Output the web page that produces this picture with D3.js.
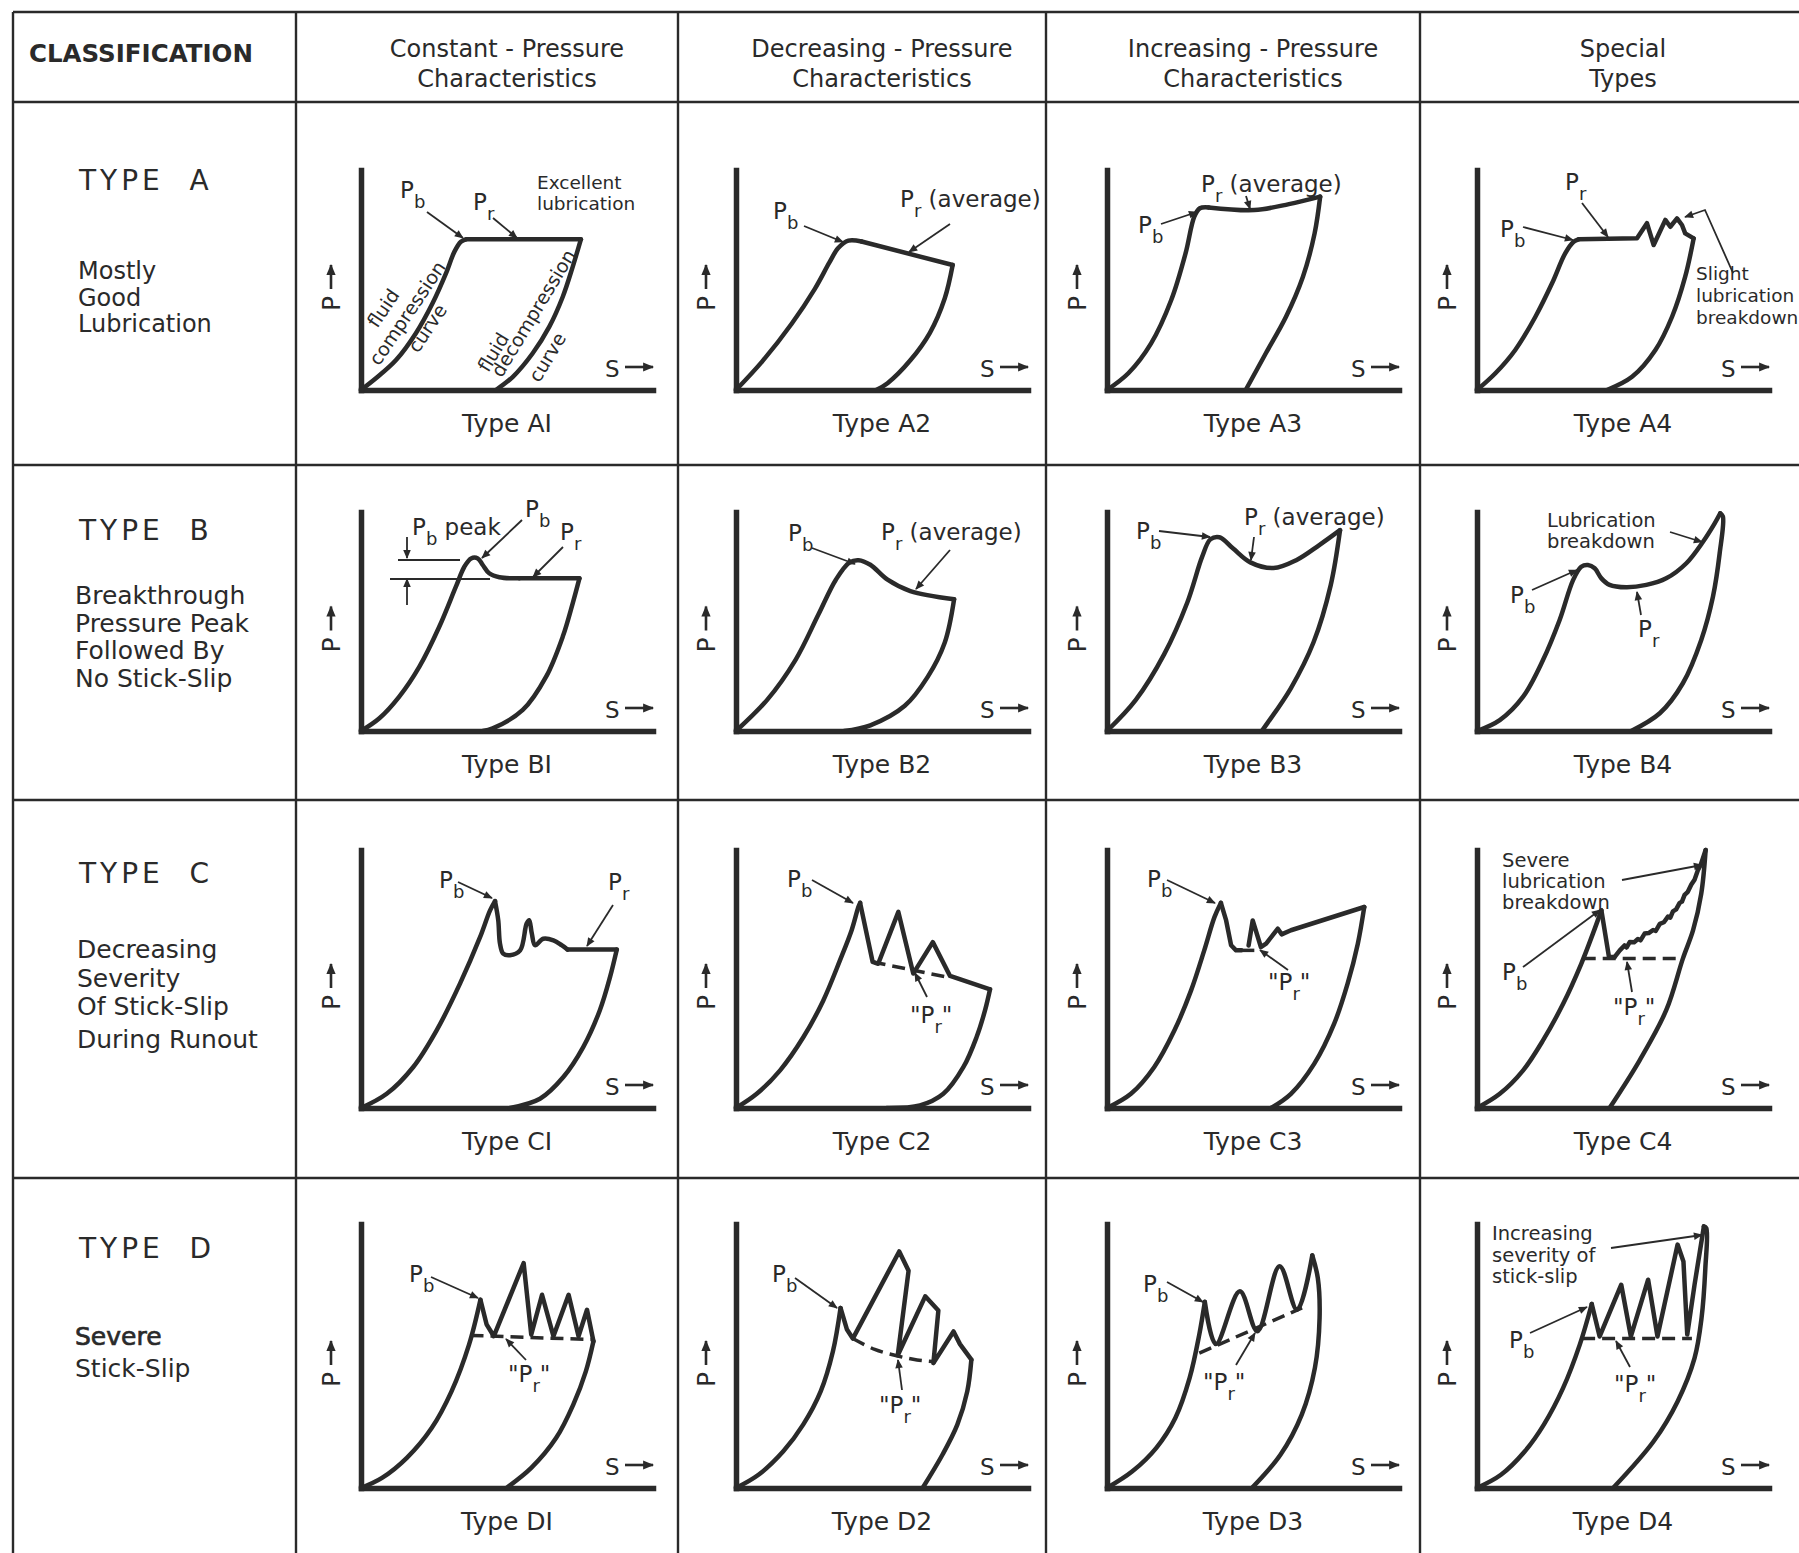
<!DOCTYPE html>
<html>
<head>
<meta charset="utf-8">
<script src="https://cdn.jsdelivr.net/npm/d3@7"></script>
<style>
  body { margin: 0; background: #fff; }
  svg { display: block; }
  text { font-family: "DejaVu Sans", "Liberation Sans", sans-serif; fill: #2a2a2a; }
</style>
</head>
<body>
<svg id="chart" width="1799" height="1553"></svg>
<script>
// ---- text ----
const colHeads = [["Constant - Pressure", "Characteristics"], ["Decreasing - Pressure", "Characteristics"],
                  ["Increasing - Pressure", "Characteristics"], ["Special", "Types"]];
const rowTitles = ["TYPE  A", "TYPE  B", "TYPE  C", "TYPE  D"];
const rowNotes = [["Mostly", "Good", "Lubrication"],
                  ["Breakthrough", "Pressure Peak", "Followed By", "No Stick-Slip"],
                  ["Decreasing", "Severity", "Of Stick-Slip", "During Runout"],
                  ["Severe", "Stick-Slip"]];

// ---- curves, [S, P] on a 0..10 scale ----
const a1Rise = [[0,0],[0.51,0.53],[1.2,1.36],[1.88,2.58],[2.45,3.94],[2.91,5.3],[3.2,6.29],[3.42,6.74],[3.6,6.85]];
const a1Run  = [[3.6,6.85],[7.53,6.85]];
const a1Fall = [[7.53,6.85],[7.25,5.6],[6.91,4.24],[6.45,2.88],[5.88,1.67],[5.2,0.6],[4.62,0]];

const a2Rise = [[0,0],[0.9,1.3],[1.9,3.0],[2.7,4.6],[3.2,5.8],[3.5,6.45],[3.85,6.79],[4.3,6.75]];
const a2Run  = [[4.3,6.75],[7.42,5.68]];
const a2Fall = [[7.42,5.68],[7.15,4.17],[6.64,2.6],[5.97,1.35],[5.19,0.31],[4.8,0]];

const a3Rise = [[0,0],[0.73,0.76],[1.51,2.12],[2.2,4.09],[2.69,6.21],[2.99,7.88],[3.18,8.26],[3.48,8.3]];
const a3Run  = [[3.48,8.3],[5.05,8.18],[6.23,8.45],[7.3,8.79]];
const a3Fall = [[7.3,8.79],[7.11,7.12],[6.71,5.15],[6.13,3.33],[5.44,1.67],[4.75,0]];

const a4Rise = [[0,0],[0.63,0.76],[1.31,1.82],[2.0,3.33],[2.57,4.85],[3.02,6.21],[3.31,6.74],[3.48,6.85]];
const a4Run  = [[3.48,6.85],[5.48,6.9],[5.82,7.58],[6.05,6.59],[6.45,7.73],[6.62,7.42],[6.85,7.8],[7.02,7.5],[7.13,7.12],[7.42,6.89]];
const a4Fall = [[7.42,6.89],[7.13,5.15],[6.68,3.33],[6.11,1.82],[5.31,0.6],[4.45,0]];

const b1Rise = [[0,0],[0.63,0.58],[1.31,1.57],[2.0,2.94],[2.68,4.76],[3.25,6.59],[3.54,7.5],[3.77,7.88],[4.0,7.88],[4.17,7.58],[4.39,7.2],[4.74,7.02],[5.42,6.97]];
const b1Run  = [[5.42,6.97],[7.48,6.97]];
const b1Fall = [[7.48,6.97],[7.25,5.83],[6.91,4.31],[6.34,2.48],[5.54,0.96],[4.51,0.12],[4.17,0]];

const b2Rise = [[0,0],[1.06,1.41],[2.04,3.25],[2.83,5.34],[3.42,6.91],[3.89,7.7],[4.2,7.8],[4.6,7.59],[5.19,6.91],[5.97,6.39],[7.47,6.02]];
const b2Fall = [[7.47,6.02],[7.15,4.04],[6.56,2.46],[5.78,1.15],[4.6,0.26],[3.7,0]];

const b3Rise = [[0,0],[0.98,1.41],[1.96,3.51],[2.75,5.87],[3.26,7.96],[3.54,8.75],[3.85,8.85],[4.32,8.33],[4.91,7.7],[5.7,7.44],[6.48,7.8],[7.27,8.49],[7.98,9.17]];
const b3Fall = [[7.98,9.17],[7.66,6.65],[7.07,4.04],[6.29,1.94],[5.5,0.37],[5.3,0]];

const b4Rise = [[0,0],[0.78,0.5],[1.58,1.57],[2.26,3.24],[2.83,5.07],[3.29,6.89],[3.57,7.5],[3.8,7.58],[4.03,7.43],[4.26,6.97],[4.54,6.67],[5.11,6.56],[5.8,6.67],[6.48,6.97],[7.17,7.66],[7.74,8.64],[8.14,9.48],[8.33,9.94]];
const b4Fall = [[8.33,9.94],[8.42,9.8],[8.31,8.11],[8.08,6.13],[7.68,4.16],[7.05,2.18],[6.26,0.81],[5.28,0]];

const c1Rise = [[0,0],[0.88,0.55],[1.79,1.59],[2.59,3.01],[3.39,4.82],[4.08,6.63],[4.42,7.66],[4.59,8.02]];
const c1Run  = [[4.59,8.02],[4.7,7.28],[4.76,6.37],[4.87,5.98],[5.1,5.92],[5.45,6.11],[5.67,7.14],[5.76,7.28],[5.85,6.76],[5.96,6.31],[6.24,6.56],[6.59,6.5],[6.87,6.31],[7.07,6.14]];
const c1Flat = [[7.07,6.14],[8.76,6.14]];
const c1Fall = [[8.76,6.14],[8.53,5.08],[8.18,3.79],[7.61,2.36],[6.93,1.2],[6.13,0.36],[5.1,0]];

const c2Rise = [[0,0],[0.71,0.55],[1.51,1.46],[2.31,2.75],[2.99,4.17],[3.56,5.72],[3.96,6.89],[4.19,7.79],[4.25,7.95]];
const c2Run  = [[4.25,7.95],[4.68,5.66],[4.87,5.59],[5.56,7.6],[6.07,5.21],[6.74,6.43],[7.33,5.12],[8.7,4.6]];
const c2Fall = [[8.7,4.6],[8.53,3.79],[8.24,2.75],[7.79,1.59],[7.1,0.55],[6.3,0.1],[5.16,0]];
const c2Dash = [[4.68,5.66],[7.33,5.05]];

const c3Rise = [[0,0],[0.82,0.55],[1.62,1.59],[2.31,3.01],[2.88,4.56],[3.33,6.11],[3.68,7.4],[3.9,7.95]];
const c3Run  = [[3.9,7.95],[4.08,7.27],[4.25,6.31],[4.42,6.11],[4.6,6.11]];
const c3Tail = [[4.85,6.3],[4.99,7.27],[5.27,6.24],[5.45,6.37],[5.85,6.95],[5.98,6.73],[6.3,6.89],[8.81,7.79]];
const c3Fall = [[8.81,7.79],[8.59,6.37],[8.24,4.82],[7.78,3.27],[7.1,1.72],[6.3,0.55],[5.62,0]];
const c3Dash = [[4.6,6.11],[5.1,6.11]];

const c4Rise = [[0,0],[0.78,0.55],[1.58,1.46],[2.26,2.62],[2.95,4.04],[3.57,5.59],[3.97,6.76],[4.26,7.66]];
const c4Drop = [[4.26,7.66],[4.52,5.85],[4.71,5.85]];
const c4Run  = [[4.71,5.85],[4.89,6.11],[5.05,6.3],[5.12,6.22],[5.23,6.43],[5.38,6.42],[5.51,6.55],[5.6,6.5],[5.74,6.76],[5.88,6.78],[6.03,6.9],[6.12,6.86],[6.26,7.14],[6.4,7.2],[6.54,7.42],[6.62,7.38],[6.71,7.62],[6.82,7.7],[6.94,7.95],[7.02,8.0],[7.11,8.26],[7.22,8.38],[7.34,8.66],[7.45,8.85],[7.57,9.23],[7.66,9.42],[7.72,9.62],[7.83,10.0]];
const c4Fall = [[7.83,10.0],[7.68,8.31],[7.4,6.89],[7.05,5.79],[6.48,3.79],[5.57,1.85],[4.54,0]];
const c4Dash = [[3.62,5.79],[7.05,5.79]];

const d1Rise = [[0,0],[0.72,0.38],[1.57,1.14],[2.42,2.27],[3.1,3.66],[3.7,5.43],[4.09,7.13]];
const d1Run  = [[4.09,7.13],[4.3,6.2],[4.55,5.75],[5.57,8.52],[5.83,5.81],[6.2,7.32],[6.59,5.75],[7.11,7.32],[7.45,5.75],[7.74,6.75],[7.96,5.56]];
const d1Fall = [[7.96,5.56],[7.7,4.42],[7.27,3.16],[6.68,1.89],[5.83,0.76],[4.98,0]];
const d1Dash = [[3.75,5.78],[7.96,5.62]];

const d2Rise = [[0,0],[0.77,0.5],[1.62,1.39],[2.3,2.4],[2.9,3.66],[3.32,5.18],[3.58,6.82]];
const d2Run  = [[3.58,6.82],[3.8,6.0],[4.0,5.66],[5.59,8.96],[5.91,8.23],[5.54,5.03],[6.48,7.26],[6.93,6.72],[6.76,4.73],[7.45,5.93],[7.67,5.45],[8.06,4.86]];
const d2Fall = [[8.06,4.86],[7.92,3.66],[7.58,2.4],[7.07,1.26],[6.39,0]];
const d2Dash = [[4.0,5.66],[4.75,5.25],[5.54,5.0],[6.2,4.85],[6.85,4.78]];

const d3Rise = [[0,0],[0.87,0.63],[1.69,1.52],[2.34,2.65],[2.83,4.17],[3.16,5.81],[3.35,7.05]];
const d3Run  = [[3.35,7.05],[3.73,5.45],[4.55,7.45],[5.15,5.94],[5.91,8.4],[6.51,6.75],[7.03,8.81]];
const d3Fall = [[7.03,8.81],[7.22,7.95],[7.28,6.44],[7.12,4.55],[6.67,2.78],[5.94,1.26],[4.96,0]];
const d3Dash = [[3.16,5.11],[6.68,6.82]];

const d4Rise = [[0,0],[0.82,0.5],[1.64,1.39],[2.29,2.4],[2.95,3.79],[3.52,5.43],[3.93,6.97]];
const d4Run  = [[3.93,6.97],[4.2,5.74],[4.94,7.7],[5.27,5.74],[5.86,7.89],[6.18,5.74],[6.87,9.22],[7.07,8.58],[7.2,5.81],[7.45,7.7],[7.77,9.91]];
const d4Fall = [[7.77,9.91],[7.85,9.85],[7.82,8.33],[7.69,6.44],[7.45,4.92],[6.87,3.28],[6.05,1.77],[4.66,0]];
const d4Dash = [[3.6,5.66],[7.36,5.66]];

// ---- panels: segments ("s" smooth, "l" straight) and callouts (offsets from the axis corner) ----
const panels = [
  {id: "AI", row: 0, col: 0, segs: [[a1Rise,"s"],[a1Run,"l"],[a1Fall,"s"]], dash: [], notes: [
    {k:"p", s:"b", x:39, y:-192}, {k:"arrow", pts:[[66,-178],[102,-152]]},
    {k:"p", s:"r", x:112, y:-180}, {k:"arrow", pts:[[132,-172],[156,-152]]},
    {k:"txt", lines:["Excellent","lubrication"], x:176, y:-201, lh:21, fs:18.5},
    {k:"rot", s:"fluid", x:22, y:-82, r:-56}, {k:"rot", s:"compression", x:46, y:-77, r:-56}, {k:"rot", s:"curve", x:66, y:-62, r:-56},
    {k:"rot", s:"fluid", x:132, y:-38, r:-59}, {k:"rot", s:"decompression", x:172, y:-77, r:-59}, {k:"rot", s:"curve", x:186, y:-33, r:-59}]},
  {id: "A2", row: 0, col: 1, segs: [[a2Rise,"s"],[a2Run,"l"],[a2Fall,"s"]], dash: [], notes: [
    {k:"p", s:"b", x:37, y:-171}, {k:"arrow", pts:[[68,-164],[107,-148]]},
    {k:"p", s:"r", x:164, y:-183, tail:" (average)"}, {k:"arrow", pts:[[214,-166],[173,-138]]}]},
  {id: "A3", row: 0, col: 2, segs: [[a3Rise,"s"],[a3Run,"s"],[a3Fall,"s"]], dash: [], notes: [
    {k:"p", s:"b", x:31, y:-157}, {k:"arrow", pts:[[54,-166],[90,-178]]},
    {k:"p", s:"r", x:94, y:-198, tail:" (average)"}, {k:"arrow", pts:[[139,-194],[143,-181]]}]},
  {id: "A4", row: 0, col: 3, segs: [[a4Rise,"s"],[a4Run,"l"],[a4Fall,"s"]], dash: [], notes: [
    {k:"p", s:"r", x:88, y:-200}, {k:"arrow", pts:[[105,-187],[131,-153]]},
    {k:"p", s:"b", x:23, y:-153}, {k:"arrow", pts:[[46,-163],[96,-150]]},
    {k:"txt", lines:["Slight","lubrication","breakdown"], x:219, y:-110, lh:22, fs:18.5},
    {k:"arrow", pts:[[256,-117],[228,-180],[208,-173]]}]},

  {id: "BI", row: 1, col: 0, segs: [[b1Rise,"s"],[b1Run,"l"],[b1Fall,"s"]], dash: [], notes: [
    {k:"p", s:"b", x:51, y:-196, tail:" peak"},
    {k:"p", s:"b", x:164, y:-214}, {k:"arrow", pts:[[161,-211],[121,-173]]},
    {k:"p", s:"r", x:199, y:-191}, {k:"arrow", pts:[[202,-184],[172,-154]]},
    {k:"line", pts:[[37,-171],[99,-171]]}, {k:"line", pts:[[29,-152],[129,-152]]},
    {k:"arrow", pts:[[46,-194],[46,-173]]}, {k:"arrow", pts:[[46,-126],[46,-152]]}]},
  {id: "B2", row: 1, col: 1, segs: [[b2Rise,"s"],[b2Fall,"s"]], dash: [], notes: [
    {k:"p", s:"b", x:52, y:-190}, {k:"arrow", pts:[[76,-183],[119,-167]]},
    {k:"p", s:"r", x:145, y:-191, tail:" (average)"}, {k:"arrow", pts:[[214,-181],[180,-142]]}]},
  {id: "B3", row: 1, col: 2, segs: [[b3Rise,"s"],[b3Fall,"s"]], dash: [], notes: [
    {k:"p", s:"b", x:29, y:-192}, {k:"arrow", pts:[[52,-200],[103,-194]]},
    {k:"p", s:"r", x:137, y:-206, tail:" (average)"}, {k:"arrow", pts:[[147,-194],[144,-171]]}]},
  {id: "B4", row: 1, col: 3, segs: [[b4Rise,"s"],[b4Fall,"s"]], dash: [], notes: [
    {k:"txt", lines:["Lubrication","breakdown"], x:70, y:-204, lh:21, fs:19.5},
    {k:"arrow", pts:[[193,-199],[225,-189]]},
    {k:"p", s:"b", x:33, y:-128}, {k:"arrow", pts:[[55,-141],[100,-161]]},
    {k:"p", s:"r", x:161, y:-94}, {k:"arrow", pts:[[164,-116],[160,-139]]}]},

  {id: "CI", row: 2, col: 0, segs: [[c1Rise,"s"],[c1Run,"s"],[c1Flat,"l"],[c1Fall,"s"]], dash: [], notes: [
    {k:"p", s:"b", x:78, y:-220}, {k:"arrow", pts:[[97,-226],[131,-210]]},
    {k:"p", s:"r", x:247, y:-218}, {k:"arrow", pts:[[252,-203],[226,-162]]}]},
  {id: "C2", row: 2, col: 1, segs: [[c2Rise,"s"],[c2Run,"l"],[c2Fall,"s"]], dash: [c2Dash], notes: [
    {k:"p", s:"b", x:51, y:-221}, {k:"arrow", pts:[[76,-228],[117,-205]]},
    {k:"p", s:"r", x:174, y:-85, q:true}, {k:"arrow", pts:[[191,-111],[179,-135]]}]},
  {id: "C3", row: 2, col: 2, segs: [[c3Rise,"s"],[c3Run,"l"],[c3Tail,"l"],[c3Fall,"s"]], dash: [c3Dash], notes: [
    {k:"p", s:"b", x:40, y:-221}, {k:"arrow", pts:[[60,-228],[108,-205]]},
    {k:"p", s:"r", x:161, y:-118, q:true}, {k:"arrow", pts:[[181,-138],[153,-158]]}]},
  {id: "C4", row: 2, col: 3, segs: [[c4Rise,"s"],[c4Drop,"l"],[c4Run,"l"],[c4Fall,"s"]], dash: [c4Dash], notes: [
    {k:"txt", lines:["Severe","lubrication","breakdown"], x:25, y:-241, lh:21, fs:19.5},
    {k:"arrow", pts:[[145,-228],[225,-243]]},
    {k:"p", s:"b", x:25, y:-128}, {k:"arrow", pts:[[46,-141],[123,-198]]},
    {k:"p", s:"r", x:136, y:-93, q:true}, {k:"arrow", pts:[[155,-116],[150,-146]]}]},

  {id: "DI", row: 3, col: 0, segs: [[d1Rise,"s"],[d1Run,"l"],[d1Fall,"s"]], dash: [d1Dash], notes: [
    {k:"p", s:"b", x:48, y:-206}, {k:"arrow", pts:[[70,-211],[117,-190]]},
    {k:"p", s:"r", x:147, y:-106, q:true}, {k:"arrow", pts:[[165,-128],[145,-149]]}]},
  {id: "D2", row: 3, col: 1, segs: [[d2Rise,"s"],[d2Run,"l"],[d2Fall,"s"]], dash: [d2Dash], notes: [
    {k:"p", s:"b", x:36, y:-206}, {k:"arrow", pts:[[59,-210],[101,-180]]},
    {k:"p", s:"r", x:143, y:-75, q:true}, {k:"arrow", pts:[[166,-98],[162,-128]]}]},
  {id: "D3", row: 3, col: 2, segs: [[d3Rise,"s"],[d3Run,"s"],[d3Fall,"s"]], dash: [d3Dash], notes: [
    {k:"p", s:"b", x:36, y:-196}, {k:"arrow", pts:[[60,-206],[96,-186]]},
    {k:"p", s:"r", x:96, y:-98, q:true}, {k:"arrow", pts:[[129,-123],[148,-155]]}]},
  {id: "D4", row: 3, col: 3, segs: [[d4Rise,"s"],[d4Run,"l"],[d4Fall,"s"]], dash: [d4Dash], notes: [
    {k:"txt", lines:["Increasing","severity of","stick-slip"], x:15, y:-248, lh:21.5, fs:19.5},
    {k:"arrow", pts:[[134,-240],[225,-253]]},
    {k:"p", s:"b", x:32, y:-140}, {k:"arrow", pts:[[53,-155],[110,-181]]},
    {k:"p", s:"r", x:137, y:-96, q:true}, {k:"arrow", pts:[[153,-121],[139,-147]]}]}
];

// ---- layout ----
const ink = "#2a2a2a";
const gridX = [13, 296, 678, 1046, 1420];
const gridY = [12, 102, 465, 800, 1178];
const colX = [361, 736, 1107, 1477];     // y-axis of each panel column
const rowY = [390, 731, 1108, 1488];     // x-axis of each panel row
const rowH = [220, 219, 258, 264];
const axisW = 292;
const titleY = [190, 540, 883, 1258];
const noteY = [[279, 305.5, 332], [604, 632, 659, 687], [958, 987, 1015, 1048], [1345, 1377]];
const noteX = [78, 75, 77, 75];
const noteFs = [24, 25, 25, 25];

const svg = d3.select("#chart");
svg.append("rect").attr("width", 1799).attr("height", 1553).attr("fill", "#fff");

const defs = svg.append("defs");
[["head", 11, 9], ["big", 13, 11]].forEach(([id, w, h]) => {
  defs.append("marker").attr("id", id).attr("viewBox", "0 0 10 10")
    .attr("refX", 9).attr("refY", 5).attr("markerWidth", w).attr("markerHeight", h)
    .attr("markerUnits", "userSpaceOnUse").attr("orient", "auto")
    .append("path").attr("d", "M0,0.8L10,5L0,9.2Z").attr("fill", ink);
});

// table rules
const grid = svg.append("g").attr("stroke", ink).attr("stroke-width", 2.4);
gridX.forEach(x => grid.append("line").attr("x1", x).attr("x2", x).attr("y1", 12).attr("y2", 1553));
gridY.forEach(y => grid.append("line").attr("x1", 13).attr("x2", 1799).attr("y1", y).attr("y2", y));

// header
svg.append("text").attr("x", 29).attr("y", 62).attr("font-size", 24.5).attr("font-weight", "bold")
  .text("CLASSIFICATION");
colHeads.forEach((lines, i) => lines.forEach((s, j) =>
  svg.append("text").attr("x", colX[i] + 146).attr("y", 57 + j * 30).attr("text-anchor", "middle")
    .attr("font-size", 24).text(s)));

// row titles and descriptions
rowTitles.forEach((s, i) => {
  svg.append("text").attr("x", 79).attr("y", titleY[i]).attr("font-size", 28)
    .attr("letter-spacing", 4).style("white-space", "pre").text(s);
  rowNotes[i].forEach((t, j) => {
    const tx = svg.append("text").attr("x", noteX[i]).attr("y", noteY[i][j]).attr("font-size", noteFs[i]).text(t);
    if (i === 3 && j === 0) tx.attr("stroke", ink).attr("stroke-width", 0.7);
  });
});

function pLabel(g, x, y, n) {
  const t = g.append("text").attr("x", x).attr("y", y).attr("font-size", 23);
  t.append("tspan").text(n.q ? "\"P" : "P");
  t.append("tspan").attr("dy", 10).attr("font-size", 18).text(n.s);
  if (n.q) t.append("tspan").attr("dy", -10).text("\"");
  if (n.tail) t.append("tspan").attr("dy", -10).text(n.tail);
}

panels.forEach(p => {
  const ox = colX[p.col], oy = rowY[p.row], h = rowH[p.row];
  const x = d3.scaleLinear().domain([0, 10]).range([ox, ox + axisW]);
  const y = d3.scaleLinear().domain([0, 10]).range([oy, oy - h]);
  const g = svg.append("g").attr("class", "panel-" + p.id);

  const styleAxis = a => {
    a.select(".domain").attr("stroke", ink).attr("stroke-width", 5.5).attr("stroke-linecap", "square");
  };
  g.append("g").attr("transform", `translate(0,${oy})`)
    .call(d3.axisBottom(x).tickValues([]).tickSizeOuter(0)).call(styleAxis);
  g.append("g").attr("transform", `translate(${ox},0)`)
    .call(d3.axisLeft(y).tickValues([]).tickSizeOuter(0)).call(styleAxis);

  // axis names
  const mid = oy - h / 2;
  g.append("text").attr("transform", `translate(${ox - 21},${mid + 31}) rotate(-90)`)
    .attr("font-size", 25).text("P");
  g.append("line").attr("x1", ox - 30).attr("x2", ox - 30).attr("y1", mid + 9).attr("y2", mid - 15)
    .attr("stroke", ink).attr("stroke-width", 2.6).attr("marker-end", "url(#big)");
  g.append("text").attr("x", ox + 244).attr("y", oy - 13).attr("font-size", 23).text("S");
  g.append("line").attr("x1", ox + 264).attr("x2", ox + 292).attr("y1", oy - 23).attr("y2", oy - 23)
    .attr("stroke", ink).attr("stroke-width", 2.6).attr("marker-end", "url(#big)");

  // caption
  g.append("text").attr("x", ox + 146).attr("y", oy + 42).attr("text-anchor", "middle")
    .attr("font-size", 25).text("Type " + p.id);

  // pressure trace
  p.segs.forEach(([pts, kind]) => {
    const line = d3.line().x(d => x(d[0])).y(d => y(d[1]))
      .curve(kind === "s" ? d3.curveCatmullRom.alpha(0.5) : d3.curveLinear);
    g.append("path").attr("d", line(pts)).attr("fill", "none").attr("stroke", ink)
      .attr("stroke-width", 4.5).attr("stroke-linejoin", "round").attr("stroke-linecap", "round");
  });
  p.dash.forEach(pts => {
    const line = d3.line().x(d => x(d[0])).y(d => y(d[1])).curve(d3.curveCatmullRom.alpha(0.5));
    g.append("path").attr("d", line(pts)).attr("fill", "none").attr("stroke", ink)
      .attr("stroke-width", 3.5).attr("stroke-dasharray", "13 7");
  });

  // callouts
  p.notes.forEach(n => {
    if (n.k === "p") pLabel(g, ox + n.x, oy + n.y, n);
    else if (n.k === "arrow" || n.k === "line") {
      g.append("path").attr("d", d3.line()(n.pts.map(([a, b]) => [ox + a, oy + b])))
        .attr("fill", "none").attr("stroke", ink).attr("stroke-width", 1.8)
        .attr("marker-end", n.k === "arrow" ? "url(#head)" : null);
    } else if (n.k === "txt") {
      n.lines.forEach((s, i) => g.append("text").attr("x", ox + n.x).attr("y", oy + n.y + i * n.lh)
        .attr("font-size", n.fs).text(s));
    } else if (n.k === "rot") {
      g.append("text").attr("transform", `translate(${ox + n.x},${oy + n.y}) rotate(${n.r})`)
        .attr("text-anchor", "middle").attr("dominant-baseline", "central")
        .attr("font-size", 19).text(n.s);
    }
  });
});
</script>
</body>
</html>
